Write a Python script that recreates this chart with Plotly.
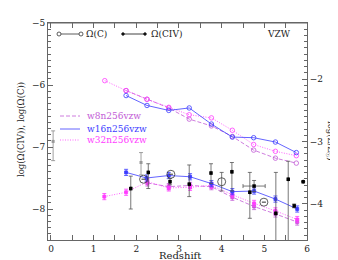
import plotly.graph_objects as go

# ---- data ----
# Omega(C) curves (open circles)
z_c_w8 = [1.76, 2.25, 2.76, 3.24, 3.76, 4.25, 4.75, 5.26, 5.75]
c_w8 = [-6.09, -6.23, -6.37, -6.55, -6.66, -6.83, -7.05, -7.18, -7.26]
z_c_w16 = [1.76, 2.25, 2.76, 3.24, 3.76, 4.25, 4.75, 5.26, 5.75]
c_w16 = [-6.17, -6.33, -6.41, -6.37, -6.63, -6.84, -6.85, -6.92, -7.09]
z_c_w32 = [1.26, 1.76, 2.25, 2.76, 3.24, 3.76, 4.25, 4.75, 5.26, 5.75]
c_w32 = [-5.93, -6.09, -6.23, -6.36, -6.48, -6.53, -6.73, -6.96, -7.07, -7.14]

# Omega(CIV) curves (filled squares, with small error bars)
z_civ_w8 = [2.26, 2.76, 3.26, 3.76, 4.25, 4.76, 5.26, 5.77]
civ_w8 = [-7.58, -7.64, -7.62, -7.64, -7.81, -7.96, -8.08, -8.21]
z_civ_w16 = [1.76, 2.24, 2.76, 3.26, 3.76, 4.25, 4.76, 5.26, 5.77]
civ_w16 = [-7.41, -7.50, -7.46, -7.48, -7.59, -7.72, -7.71, -7.84, -8.00]
z_civ_w32 = [1.25, 1.76, 2.26, 2.76, 3.26, 3.76, 4.25, 4.76, 5.26, 5.77]
civ_w32 = [-7.80, -7.73, -7.56, -7.66, -7.65, -7.62, -7.77, -7.91, -8.03, -8.17]
sim_err = 0.05

# observations: filled black squares
z_obs = [1.87, 2.28, 2.79, 3.24, 3.75, 4.24, 4.66, 4.76, 5.27, 5.56, 5.70, 5.91]
obs = [-7.67, -7.41, -7.56, -7.60, -7.42, -7.40, -7.73, -7.63, -8.07, -7.52, -7.95, -7.56]
obs_up = [0.20, 0.14, 0.05, 0.31, 0.15, 0.15, 0.32, 0.09, 0.66, 0.29, 0.03, 0.0]
obs_dn = [0.33, 0.26, 0.05, 0.20, 0.17, 0.31, 0.42, 0.09, 0.60, 1.10, 0.03, 0.0]
obs_xerr = [0, 0, 0, 0, 0, 0, 0, 0.26, 0, 0, 0, 0]

# gray observations
z_gray = [0.05, 2.11]
gray = [-6.91, -7.25]
gray_up = [0.17, 0.16]
gray_dn = [0.31, 0.20]

# open-circle observations
z_open = [2.17, 2.81, 4.00, 4.99]
opn = [-7.52, -7.44, -7.56, -7.89]
opn_up = [0, 0, 0.15, 0]
opn_dn = [0, 0, 0.15, 0]

xticks = [0, 1, 2, 3, 4, 5, 6]
yticks = [-8, -7, -6, -5]
y2ticks = [-4, -3, -2]

BLUE = "#3c3cff"
MAG = "#ff3cff"
VIO = "#c25ad6"
FONT = "DejaVu Serif"

fig = go.Figure()

def curve(x, y, color, dash, symbol, size, err=None):
    kw = {}
    if err is not None:
        kw["error_y"] = dict(type="constant", value=err, color=color, thickness=0.8, width=2)
    fig.add_trace(go.Scatter(
        x=x, y=y, mode="lines+markers",
        line=dict(color=color, width=0.8, dash=dash),
        marker=dict(symbol=symbol, size=size, color=color,
                    line=dict(color=color, width=0.8)),
        showlegend=False, **kw))

curve(z_c_w8, c_w8, VIO, "4px,2px", "circle-open", 4.5)
curve(z_c_w32, c_w32, MAG, "1px,1.5px", "circle-open", 4.5)
curve(z_c_w16, c_w16, BLUE, "solid", "circle-open", 4.5)
curve(z_civ_w8, civ_w8, VIO, "4px,2px", "square", 3, sim_err)
curve(z_civ_w32, civ_w32, MAG, "1px,1.5px", "square", 3, sim_err)
curve(z_civ_w16, civ_w16, BLUE, "solid", "square", 3, sim_err)

fig.add_trace(go.Scatter(
    x=z_gray, y=gray, mode="markers",
    marker=dict(symbol="square", size=3, color="#999999"),
    error_y=dict(type="data", symmetric=False, array=gray_up, arrayminus=gray_dn,
                 color="#888888", thickness=0.8, width=2),
    showlegend=False))
fig.add_trace(go.Scatter(
    x=z_obs, y=obs, mode="markers",
    marker=dict(symbol="square", size=3.5, color="black"),
    error_y=dict(type="data", symmetric=False, array=obs_up, arrayminus=obs_dn,
                 color="#555555", thickness=0.8, width=2),
    error_x=dict(type="data", array=obs_xerr, color="#555555", thickness=0.8, width=2),
    showlegend=False))
fig.add_trace(go.Scatter(
    x=z_open, y=opn, mode="markers",
    marker=dict(symbol="circle-open", size=8, color="#333333", line=dict(width=0.8)),
    error_y=dict(type="data", symmetric=False, array=opn_up, arrayminus=opn_dn,
                 color="#555555", thickness=0.8, width=2),
    showlegend=False))

# dummy trace for right axis
fig.add_trace(go.Scatter(x=[None], y=[None], yaxis="y2", showlegend=False))

axcol = "#666666"
fig.update_layout(
    width=330, height=252,
    margin=dict(l=40, r=31, t=15, b=20),
    paper_bgcolor="white", plot_bgcolor="white",
    font=dict(family=FONT, size=9, color="#222222"),
    xaxis=dict(range=[-0.07, 6], tickvals=xticks, ticks="inside", ticklen=5,
               tickcolor=axcol, showline=True, linecolor=axcol, linewidth=1,
               mirror="allticks", showgrid=False, zeroline=False, automargin=False,
               minor=dict(dtick=0.5, ticks="inside", ticklen=3, tickcolor=axcol),
               tickfont=dict(size=9)),
    yaxis=dict(range=[-8.5, -5], tickvals=yticks, ticktext=["\u22128", "\u22127", "\u22126", "\u22125"],
               ticks="inside", ticklen=5, tickcolor=axcol, showline=True,
               linecolor=axcol, linewidth=1, mirror=False, showgrid=False,
               zeroline=False, automargin=False,
               minor=dict(dtick=0.1, ticks="inside", ticklen=3, tickcolor=axcol),
               tickfont=dict(size=9)),
    yaxis2=dict(range=[-4.58, -1.10], overlaying="y", side="right",
                tickvals=y2ticks, ticktext=["\u22124", "\u22123", "\u22122"],
                ticks="inside", ticklen=5, tickcolor=axcol, showline=True,
                linecolor=axcol, linewidth=1, showgrid=False, zeroline=False,
                automargin=False,
                minor=dict(dtick=0.1, ticks="inside", ticklen=3, tickcolor=axcol),
                tickfont=dict(size=9)),
)

# top horizontal frame line
shapes = [dict(type="line", xref="paper", yref="paper", x0=0, x1=1, y0=1, y1=1,
               line=dict(color=axcol, width=1))]

# helpers: window pixel -> paper fraction (plot area spans px 48..307, py 23..240)
def pw(px):
    return (px - 48) / 259.0

def ph(py):
    return (240 - py) / 217.0

def legline(x0, x1, y, color, dash):
    shapes.append(dict(type="line", xref="paper", yref="paper",
                       x0=pw(x0), x1=pw(x1), y0=ph(y), y1=ph(y),
                       line=dict(color=color, width=0.8, dash=dash)))

def legdot(x, y, color, filled, r=2):
    shapes.append(dict(type="circle", xref="paper", yref="paper",
                       xsizemode="pixel", ysizemode="pixel",
                       xanchor=pw(x), yanchor=ph(y), x0=-r, x1=r, y0=-r, y1=r,
                       line=dict(color=color, width=0.8),
                       fillcolor=color if filled else "white"))

legline(59, 81, 34, "#333333", "solid")
legdot(59, 34, "#333333", False)
legdot(81, 34, "#333333", False)
legline(123, 145, 34, "#111111", "solid")
legdot(123, 34, "#111111", True, 1.3)
legdot(145, 34, "#111111", True, 1.3)
legline(60, 80, 116, VIO, "4px,2px")
legline(60, 80, 129, BLUE, "solid")
legline(60, 80, 140, MAG, "1px,1.5px")

ann = []
def txt(x, y, s, color="#222222", anchor="left", angle=0, size=9):
    ann.append(dict(xref="paper", yref="paper", x=pw(x), y=ph(y), text=s,
                    showarrow=False, xanchor=anchor, yanchor="middle",
                    textangle=angle,
                    font=dict(family=FONT, size=size, color=color)))

txt(84, 34, "\u03a9(C)")
txt(149, 34, "\u03a9(CIV)")
txt(293, 34, "VZW", anchor="right")
txt(85, 116, "w8n256vzw", VIO)
txt(85, 129, "w16n256vzw", BLUE)
txt(85, 140, "w32n256vzw", MAG)
txt(180, 256, "Redshift", anchor="center", size=10)
txt(21, 130, "log(\u03a9(CIV)), log(\u03a9(C))", anchor="center", angle=-90, size=8.5)
txt(331, 141, "log(Z/Z<sub>\u2609</sub>)", anchor="center", angle=90, size=8.5)

fig.update_layout(shapes=shapes, annotations=ann)
fig.write_html("out.html")
